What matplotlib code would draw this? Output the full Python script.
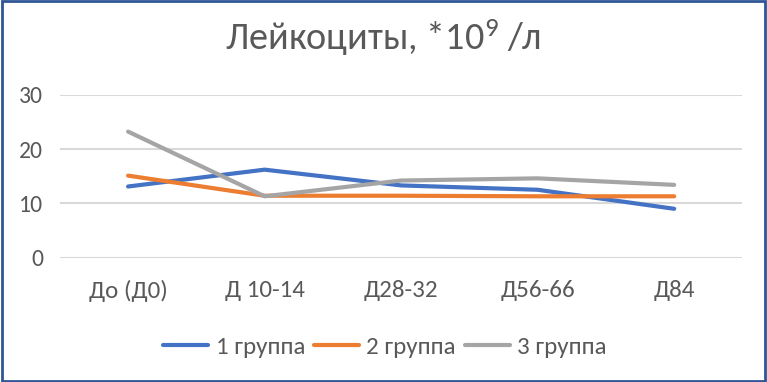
"""
Лейкоциты по группам: линейный график в стиле Excel.
"""

import matplotlib.pyplot as plot
from matplotlib.patches import Rectangle

plot.rcParams['font.family'] = ['Carlito', 'DejaVu Sans']
plot.rcParams['mathtext.default'] = 'regular'

categories = ["До (Д0)", "Д 10-14", "Д28-32", "Д56-66", "Д84"]
group_1 = [13.1, 16.2, 13.3, 12.5, 9.0]
group_2 = [15.1, 11.4, 11.4, 11.3, 11.3]
group_3 = [23.2, 11.3, 14.2, 14.6, 13.4]
series_labels = ["1 группа", "2 группа", "3 группа"]
series_colors = ["#4472C4", "#ED7D31", "#A5A5A5"]
y_ticks = [0, 10, 20, 30]

text_color = "#595959"

figure = plot.figure(figsize=(7.67, 3.82), dpi=100)
axes = figure.add_axes([0.078, 0.3254, 0.890, 0.4268])

x = range(len(categories))
for values, label, color in zip([group_1, group_2, group_3], series_labels, series_colors):
  axes.plot(x, values, label=label, color=color, linewidth=3.0,
            solid_capstyle="round", solid_joinstyle="round")

axes.set_xlim(-0.5, len(categories) - 0.5)
axes.set_ylim(0, 30)
axes.set_yticks(y_ticks)
axes.set_xticks(list(x))
axes.set_xticklabels(categories)
axes.yaxis.grid(True, color="#D9D9D9", linewidth=1.5)
axes.set_axisbelow(True)
for spine in axes.spines.values():
  spine.set_visible(False)
axes.tick_params(axis="both", length=0, labelcolor=text_color)
axes.tick_params(axis="x", pad=16, labelsize=18)
axes.tick_params(axis="y", pad=12, labelsize=17)

figure.text(0.5, 0.868, "Лейкоциты, *10$^{9}$ /л", ha="center", va="baseline",
            fontsize=27.5, color=text_color)

figure.legend(loc="center", bbox_to_anchor=(0.502, 0.092), ncol=3, frameon=False,
              fontsize=18, labelcolor=text_color, handlelength=1.8,
              handletextpad=0.3, columnspacing=0.35)

figure.patches.append(Rectangle((0.002, 0.003), 0.996, 0.994, transform=figure.transFigure,
                                fill=False, edgecolor="#2F5597", linewidth=2))

plot.savefig("out.png", dpi=100)
plot.close()
